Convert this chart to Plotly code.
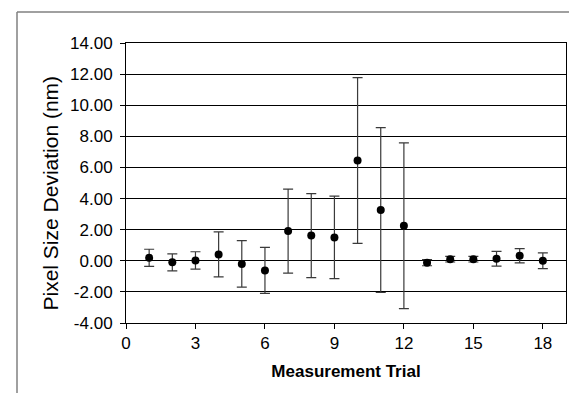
import plotly.graph_objects as go

trials = list(range(1, 19))
deviation = [0.19, -0.10, 0.02, 0.41, -0.20, -0.62, 1.91, 1.62, 1.50,
             6.45, 3.26, 2.25, -0.12, 0.10, 0.10, 0.13, 0.32, 0.00]
err = [0.55, 0.55, 0.56, 1.45, 1.50, 1.48, 2.70, 2.70, 2.65,
       5.33, 5.30, 5.33, 0.20, 0.18, 0.18, 0.47, 0.46, 0.51]
ytick_vals = [-4, -2, 0, 2, 4, 6, 8, 10, 12, 14]
ytick_text = ["-4.00", "-2.00", "0.00", "2.00", "4.00", "6.00", "8.00", "10.00", "12.00", "14.00"]
xtick_vals = [0, 3, 6, 9, 12, 15, 18]

fig = go.Figure()
fig.add_trace(go.Scatter(
    x=trials, y=deviation, mode="markers",
    marker=dict(color="black", size=8),
    error_y=dict(type="data", array=err, visible=True, color="#3a3a3a",
                 thickness=1.2, width=5),
    showlegend=False,
))

font_family = "Liberation Sans, Arial, sans-serif"
fig.update_layout(
    width=577, height=393,
    margin=dict(l=118, r=19, t=35, b=78),
    paper_bgcolor="white", plot_bgcolor="white",
    font=dict(family=font_family, color="black", size=17),
    xaxis=dict(range=[0, 19], tickvals=xtick_vals, ticks="outside", ticklen=5,
               tickcolor="black", showgrid=False, zeroline=False,
               showline=True, linecolor="black", linewidth=1, mirror=True,
               tickfont=dict(size=17), ticklabelstandoff=0,
               title=dict(text="<b>Measurement Trial</b>", font=dict(size=17), standoff=12)),
    yaxis=dict(range=[-4, 14], tickvals=ytick_vals, ticktext=ytick_text,
               ticks="outside", ticklen=5, tickcolor="black",
               showgrid=True, gridcolor="black", gridwidth=1,
               zeroline=True, zerolinecolor="black", zerolinewidth=1,
               showline=True, linecolor="black", linewidth=1, mirror=True,
               tickfont=dict(size=17), ticklabelstandoff=4),
)

# y-axis title placed as in the reference (slightly below plot centre)
fig.add_annotation(text="Pixel Size Deviation (nm)", textangle=-90,
                   xref="paper", yref="paper",
                   x=(42 - 118) / 440, y=(315 - 185.5) / 280,
                   xanchor="center", yanchor="middle", showarrow=False,
                   font=dict(size=21, family=font_family, color="black"))

# outer chart frame (cut off at right and bottom)
fig.add_shape(type="line", xref="paper", yref="paper",
              x0=(9 - 118) / 440, x1=(600 - 118) / 440,
              y0=(315 - 4) / 280, y1=(315 - 4) / 280,
              line=dict(color="#808080", width=1.5))
fig.add_shape(type="line", xref="paper", yref="paper",
              x0=(9 - 118) / 440, x1=(9 - 118) / 440,
              y0=(315 - 4) / 280, y1=(315 - 420) / 280,
              line=dict(color="#808080", width=1.5))

fig.write_html("out.html")
